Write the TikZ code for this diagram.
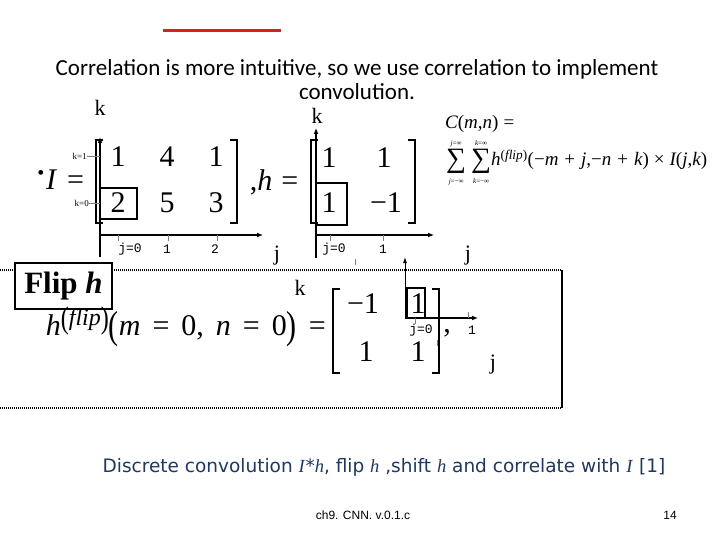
\documentclass[tikz,border=0pt]{standalone}
\usepackage{amsmath}
\usepackage{graphicx}
\usepackage{fontspec}
\setmainfont{Liberation Serif}
\newfontfamily\calibri{Carlito}
\newfontfamily\verdana{DejaVu Sans}
\newfontfamily\tahoma{Liberation Sans}
\newfontfamily\monof{Liberation Mono}
\usetikzlibrary{arrows.meta}
\definecolor{slidered}{RGB}{220,30,30}
\definecolor{tickgray}{RGB}{110,130,150}
\definecolor{capblue}{RGB}{31,56,96}
\newcommand{\bigmath}{\fontsize{30}{32}\selectfont}
\newcommand{\vi}[1]{{\itshape #1}}
\newcommand{\rel}{\hspace{12pt}}
\newcommand{\tallp}[1]{\raisebox{-3pt}{\scalebox{1}[1.3]{#1}}}
\newcommand{\bigsum}[2]{\ensuremath{\mathop{\vcenter{\hbox{\fontsize{28}{28}\selectfont ∑}}}\limits_{\text{\fontsize{7}{7}\selectfont #1}}^{\text{\fontsize{7}{7}\selectfont #2}}}}

\begin{document}
\begin{tikzpicture}[x=1pt,y=-1pt,
  ent/.style={font=\bigmath,inner sep=0pt},
  brk/.style={line width=1.3pt},
  axis/.style={line width=2pt,-{Latex[length=6pt,width=5pt]}},
  thinaxis/.style={line width=0.9pt,-{Latex[length=6pt,width=4pt]}},
  tickmark/.style={tickgray,line width=0.7pt},
  hl/.style={draw,line width=1.8pt},
  lbl/.style={font=\monof\fontsize{13}{14}\selectfont,inner sep=0pt},
  axlbl/.style={font=\fontsize{22}{24}\selectfont,inner sep=0pt},
  klbl/.style={font=\fontsize{9}{10}\selectfont,inner sep=0pt}
]
  \useasboundingbox (0,0) rectangle (720,540);
  % Header
  \coordinate (redL) at (163,31);
  \coordinate (redR) at (281,31);
  \draw[slidered,line width=3pt] (redL) -- (redR);
  \node[font=\calibri\fontsize{23}{24}\selectfont,align=center] (title) at (357,80)
    {Correlation is more intuitive, so we use correlation to implement\\convolution.};
  % Input I with its axes
  \node[axlbl] (kI) at (100,108) {k};
  \node[font=\fontsize{20}{20}\selectfont,inner sep=0pt] (bul) at (41,175) {•};
  \node[ent] (Ieq) at (65,180) {\vi{I}\hspace{11pt}=};
  \draw[brk] (103,140) -- (96,140) -- (96,223) -- (103,223);
  \draw[brk] (230,140) -- (237,140) -- (237,223) -- (230,223);
  \node[ent] (i11) at (118,157) {1};
  \node[ent] (i12) at (167,157) {4};
  \node[ent] (i13) at (216,157) {1};
  \node[ent] (i21) at (118,203) {2};
  \node[ent] (i22) at (167,203) {5};
  \node[ent] (i23) at (216,203) {3};
  \draw[hl] (100,188) rectangle (137,219);
  \coordinate (Ibot) at (100,257);
  \coordinate (Itop) at (100,137);
  \coordinate (Iorg) at (100,235);
  \coordinate (Iend) at (263,235);
  \draw[axis] (Ibot) -- (Itop);
  \draw[axis] (Iorg) -- (Iend);
  \node[klbl,anchor=east] (k1) at (87,156) {k=1};
  \node[klbl,anchor=east] (k0) at (89,203) {k=0};
  \draw[tickmark] (k1.east) -- (Iorg |- k1.east);
  \draw[tickmark] (k0.east) -- (Iorg |- k0.east);
  \foreach \x in {118,168,217} \draw[tickmark] (\x,235) -- (\x,241);
  \node[lbl] (jI0) at (130,249) {j=0};
  \node[lbl] (jI1) at (167,249) {1};
  \node[lbl] (jI2) at (215,249) {2};
  \node[axlbl] (jI) at (277,256) {j};
  % Kernel h with its axes
  \node[ent] (heq) at (274,182) {,\vi{h}\hspace{9pt}=};
  \draw[brk] (318,140) -- (311,140) -- (311,223) -- (318,223);
  \draw[brk] (408,140) -- (415,140) -- (415,223) -- (408,223);
  \node[ent] (h11) at (329,158) {1};
  \node[ent] (h12) at (384,158) {1};
  \node[ent] (h21) at (329,203) {1};
  \node[ent] (h22) at (386,203) {−1};
  \draw[hl] (316,183) rectangle (347,225);
  \coordinate (hbot) at (316,258);
  \coordinate (htop) at (316,128);
  \coordinate (horg) at (316,235);
  \coordinate (hend) at (434,235);
  \draw[axis] (hbot) -- (htop);
  \draw[axis] (horg) -- (hend);
  \node[axlbl] (kh) at (317,116) {k};
  \foreach \x in {330,383} \draw[tickmark] (\x,235) -- (\x,241);
  \draw[tickmark] (355,259) -- (355,265);
  \node[lbl] (jh0) at (334,249) {j=0};
  \node[lbl] (jh1) at (383,249) {1};
  \node[axlbl] (jh) at (468,256) {j};
  % Correlation formula
  \node[font=\fontsize{19}{21}\selectfont,anchor=west,inner sep=0pt] (Cmn) at (445,124)
    {\vi{C}(\vi{m},\vi{n})\hspace{5pt}=};
  \node[font=\fontsize{19}{21}\selectfont,anchor=west,inner sep=0pt] (sumC) at (446,163)
    {\bigsum{\vi{j}=−∞}{\vi{j}=∞}\hspace{5pt}\bigsum{\vi{k}=−∞}{\vi{k}=∞}\vi{h}\textsuperscript{(\vi{flip})}(−\vi{m}\hspace{6pt}+\hspace{6pt}\vi{j},−\vi{n}\hspace{6pt}+\hspace{6pt}\vi{k})\hspace{5pt}×\hspace{5pt}\vi{I}(\vi{j},\vi{k})};
  % Flip h panel
  \coordinate (pTL) at (0,270);
  \coordinate (pTR) at (562,270);
  \coordinate (pBL) at (0,408);
  \coordinate (pBR) at (562,408);
  \draw[line width=1.5pt,dash pattern=on 1pt off 1pt] (pTL) -- (pTR);
  \draw[line width=1.5pt,dash pattern=on 1pt off 1pt] (pBL) -- (pBR);
  \draw[line width=2.5pt] (pTR) -- (pBR);
  \node[draw,line width=1.8pt,fill=white,minimum width=97pt,minimum height=46pt,inner sep=0pt,
    font=\fontsize{31}{32}\selectfont] (flip) at (63.5,286) {\textbf{Flip \textit{h}}};
  \node[ent,anchor=east] (hflip) at (326,327)
    {\vi{h}\raisebox{10pt}{\fontsize{24}{24}\selectfont\tallp{(}\vi{flip}\tallp{)}}\tallp{(}\vi{m}\rel=\rel0,\rel\vi{n}\rel=\rel0\tallp{)}\rel=};
  \node[axlbl] (kf) at (300,288) {k};
  \draw[brk] (340,289) -- (333,289) -- (333,373) -- (340,373);
  \draw[brk] (432,289) -- (439,289) -- (439,373) -- (432,373);
  \node[ent] (f11) at (363,304) {−1};
  \node[ent] (f12) at (418,304) {1};
  \node[ent] (f21) at (366,352) {1};
  \node[ent] (f22) at (418,352) {1};
  \node[ent] (fcom) at (447,333) {,};
  \draw[hl] (407,288) rectangle (425,318);
  \coordinate (forg) at (405,318);
  \coordinate (ftop) at (405,257);
  \coordinate (fend) at (478,318);
  \draw[thinaxis] (forg) -- (ftop);
  \draw[axis] (forg) -- (fend);
  \draw[tickmark] (415,318) -- (415,324);
  \draw[tickmark] (468,312) -- (468,318);
  \draw[tickmark] (437,340) -- (437,346);
  \node[lbl] (jf0) at (421,330) {j=0};
  \node[lbl] (jf1) at (472,330) {1};
  \node[axlbl] (jf) at (493,365) {j};
  % Caption and footer
  \node[font=\verdana\fontsize{18.5}{20}\selectfont,text=capblue] (cap) at (384,467)
    {Discrete convolution \textit{\rmfamily I}*\textit{\rmfamily h}, flip \textit{\rmfamily h} ,shift \textit{\rmfamily h} and correlate with \textit{\rmfamily I} [1]};
  \node[font=\tahoma\fontsize{12}{14}\selectfont] (foot) at (363,515) {ch9. CNN. v.0.1.c};
  \node[font=\tahoma\fontsize{12}{14}\selectfont] (page) at (670,515) {14};
\end{tikzpicture}
\end{document}
